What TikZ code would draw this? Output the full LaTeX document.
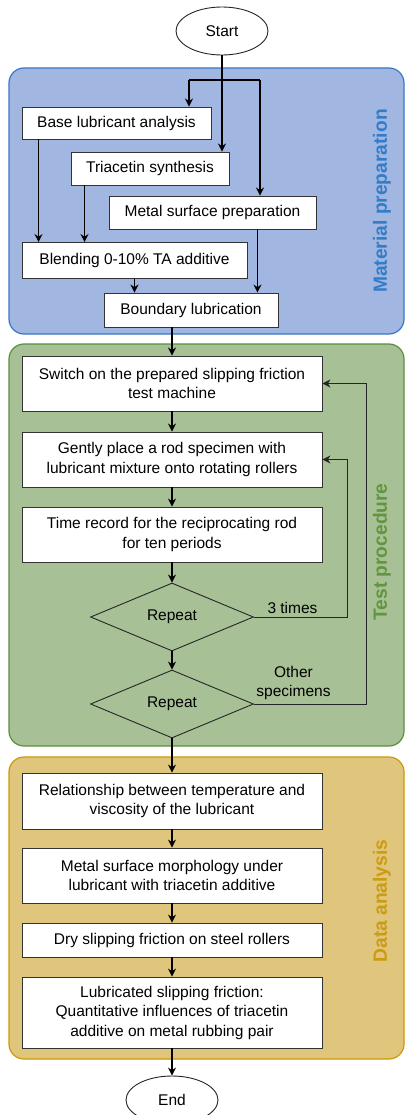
\documentclass[tikz,border=0pt]{standalone}
\usepackage{fontspec}
\setmainfont{Liberation Sans}
\usetikzlibrary{shapes.geometric, arrows.meta}
\definecolor{prepfill}{RGB}{161, 183, 225}
\definecolor{prepline}{RGB}{55, 120, 198}
\definecolor{preptext}{RGB}{52, 124, 200}
\definecolor{testfill}{RGB}{168, 192, 150}
\definecolor{testline}{RGB}{92, 142, 62}
\definecolor{testtext}{RGB}{98, 150, 62}
\definecolor{datafill}{RGB}{224, 198, 125}
\definecolor{dataline}{RGB}{205, 152, 5}
\definecolor{datatext}{RGB}{205, 155, 15}

\begin{document}
\begin{tikzpicture}[
    x=1pt, y=-1pt,
    font=\fontsize{15.5}{19.5}\selectfont,
    box/.style={draw=black!80, fill=white, line width=0.9pt, align=center, inner sep=0pt},
    term/.style={ellipse, draw=black!85, fill=white, line width=0.9pt, inner sep=0pt,
        minimum width=92pt, minimum height=48pt},
    decision/.style={diamond, draw=black!85, line width=0.9pt, inner sep=0pt,
        minimum width=163pt, minimum height=68pt},
    panel/.style={draw=#1line, fill=#1fill, line width=1.2pt, rounded corners=15pt},
    side/.style={rotate=90, text=#1text, font=\fontsize{19.2}{23}\selectfont\bfseries},
    arrow/.style={-{Stealth[length=8pt, width=8pt]}, line width=1.6pt},
    loop/.style={-{Stealth[length=8pt, width=8pt]}, line width=1pt, black!85}
]
    \useasboundingbox (0,0) rectangle (405,1115);

    % Panels
    \draw[panel=prep] (9,68)  rectangle (404,334);
    \draw[panel=test] (9,344) rectangle (404,746);
    \draw[panel=data] (9,757) rectangle (404,1059);

    \node[side=prep] (preplabel) at (382,201) {Material preparation};
    \node[side=test] (testlabel) at (382,552) {Test procedure};
    \node[side=data] (datalabel) at (382,901) {Data analysis};

    % Coordinates
    \coordinate (fork_l) at (189,80);
    \coordinate (fork_r) at (260,80);

    % Nodes
    \node[term] (start) at (222,31) {Start};

    \node[box, minimum width=189pt, minimum height=32pt] (base)  at (116.5,123)   {Base lubricant analysis};
    \node[box, minimum width=158pt, minimum height=33pt] (tri)   at (150,168.5)   {Triacetin synthesis};
    \node[box, minimum width=207pt, minimum height=33pt] (metal) at (212.5,212.5) {Metal surface preparation};
    \node[box, minimum width=225pt, minimum height=36pt] (blend) at (134.5,260.5) {Blending 0-10\% TA additive};
    \node[box, minimum width=174pt, minimum height=34pt] (bound) at (191,310)     {Boundary lubrication};

    \node[box, minimum width=300pt, minimum height=55pt] (switch)  at (172,383.5)
        {Switch on the prepared slipping friction\\test machine};
    \node[box, minimum width=300pt, minimum height=55pt] (gently)  at (172,459.5)
        {Gently place a rod specimen with\\lubricant mixture onto rotating rollers};
    \node[box, minimum width=300pt, minimum height=55pt] (timerec) at (172,534.5)
        {Time record for the reciprocating rod\\for ten periods};
    \node[decision] (rep_a) at (172,617) {Repeat};
    \node[decision] (rep_b) at (172,704) {Repeat};

    \node[box, minimum width=300pt, minimum height=56pt] (relation) at (172,801)
        {Relationship between temperature and\\viscosity of the lubricant};
    \node[box, minimum width=300pt, minimum height=55pt] (morph)    at (172,875.5)
        {Metal surface morphology under\\lubricant with triacetin additive};
    \node[box, minimum width=300pt, minimum height=34pt] (dry)      at (172,940)
        {Dry slipping friction on steel rollers};
    \node[box, minimum width=300pt, minimum height=71pt] (lubric)   at (172,1012.5)
        {Lubricated slipping friction:\\Quantitative influences of triacetin\\additive on metal rubbing pair};

    \node[term] (end) at (172,1100) {End};

    % Material preparation
    \draw[arrow] (start.south) -- (start.south |- tri.north);
    \draw[line width=1.6pt] (fork_l) -- (fork_r);
    \draw[arrow] (fork_l) -- (fork_l |- base.north);
    \draw[arrow] (fork_r) -- (fork_r |- metal.north);
    \draw[arrow] ([xshift=17pt]base.south west) -- ([xshift=17pt]blend.north west);
    \draw[arrow] ([xshift=14pt]tri.south west) -- ([xshift=14pt]tri.south west |- blend.north);
    \draw[arrow] ([xshift=-59pt]metal.south east) -- ([xshift=-59pt]metal.south east |- bound.north);
    \draw[arrow] (blend.south) -- (blend.south |- bound.north);
    \draw[arrow] (switch.north |- bound.south) -- (switch.north);

    % Test procedure
    \draw[arrow] (switch) -- (gently);
    \draw[arrow] (gently) -- (timerec);
    \draw[arrow] (timerec) -- (rep_a);
    \draw[arrow] (rep_a) -- (rep_b);
    \draw[loop] (rep_a.east) -- node[pos=0.41, above, black] {3 times} ++(94,0) |- (gently.east);
    \draw[loop] (rep_b.east) -- node[pos=0.35, above, black, align=center] {Other\\specimens} ++(113,0) |- (switch.east);

    % Data analysis
    \draw[arrow] (rep_b) -- (relation);
    \draw[arrow] (relation) -- (morph);
    \draw[arrow] (morph) -- (dry);
    \draw[arrow] (dry) -- (lubric);
    \draw[arrow] (lubric) -- (end);

\end{tikzpicture}
\end{document}
